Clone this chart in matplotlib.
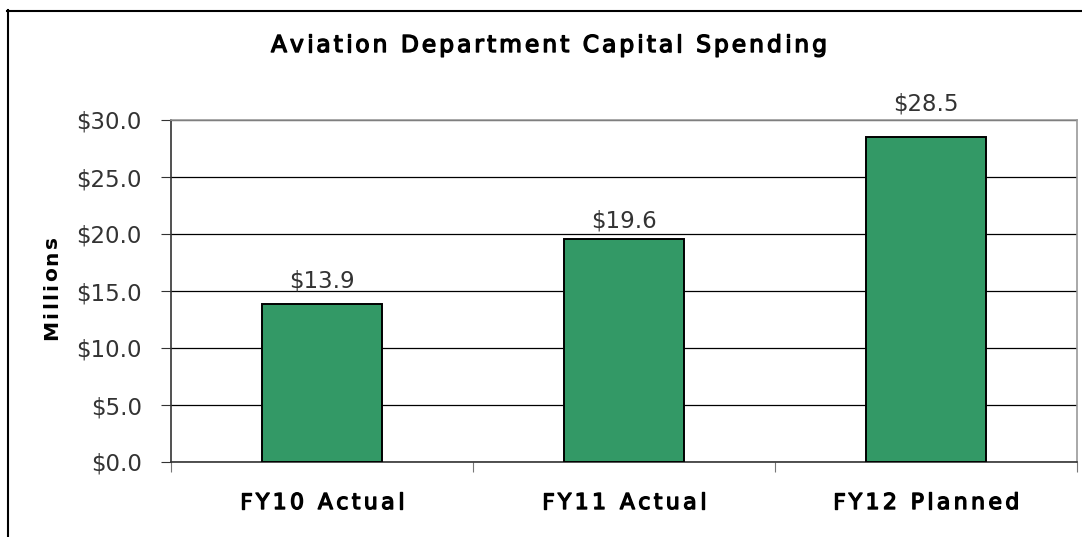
import matplotlib
matplotlib.use('Agg')

import matplotlib.pyplot as plt
import matplotlib.patheffects as pe
from matplotlib.lines import Line2D
from matplotlib.transforms import IdentityTransform
from matplotlib.font_manager import FontProperties, findfont, get_font

# Capital spending by fiscal year (millions of dollars)
categories = ['FY10 Actual', 'FY11 Actual', 'FY12 Planned']
spending = [13.9, 19.6, 28.5]
y_ticks = [0, 5, 10, 15, 20, 25, 30]

# how far (px) each value label's baseline sits above its bar
label_lift = [16, 11, 27]

W, H = 1082, 537
fig = plt.figure(figsize=(W / 100, H / 100), dpi=100)
ax = fig.add_axes([171 / W, 1 - 462 / H, 906 / W, 342 / H])


def spaced_text(x, y, s, size, gap, ha='center', rotation=0, weight='normal',
                color='black', stroke=0.0):
    # draws s glyph by glyph with `gap` px of extra tracking; (x, y) is the baseline anchor in pixels
    font = get_font(findfont(FontProperties(family='DejaVu Sans', weight=weight)))
    font.set_size(size, fig.dpi)
    adv = [font.load_char(ord(c)).linearHoriAdvance / 65536 for c in s]
    total = sum(adv) + gap * (len(s) - 1)
    pos = {'left': 0, 'center': -total / 2, 'right': -total}[ha]
    effects = [pe.withStroke(linewidth=stroke, foreground=color)] if stroke else None
    for ch, a in zip(s, adv):
        c = pos + a / 2
        px, py = (x + c, y) if rotation == 0 else (x, y + c)
        fig.text(px, py, ch, transform=IdentityTransform(), ha='center', va='baseline',
                 rotation=rotation, rotation_mode='anchor', fontsize=size,
                 fontweight=weight, color=color, path_effects=effects)
        pos += a + gap


# outer chart frame (left and top edges)
fig.add_artist(Line2D([7.5 / W, 7.5 / W], [0, 1 - 10 / H],
                      transform=fig.transFigure, color='black', lw=1.5))
fig.add_artist(Line2D([7 / W, 1], [1 - 10.5 / H, 1 - 10.5 / H],
                      transform=fig.transFigure, color='black', lw=1.5))

x = range(len(categories))
ax.bar(x, spending, width=0.4, color='#339966', edgecolor='black', linewidth=1.4, zorder=3)

for i, v in enumerate(spending):
    ax.annotate(f'${v:.1f}', (i, v), xytext=(0, label_lift[i] * 0.72), textcoords='offset points',
                ha='center', va='baseline', fontsize=16.5, color='#333333')

ax.set_xlim(-0.5, len(categories) - 0.5)
ax.set_ylim(0, 30)
ax.set_yticks(y_ticks)
ax.set_yticklabels([f'${t:.1f}' for t in y_ticks], fontsize=16.5, color='#333333')
ax.yaxis.grid(True, color='black', linewidth=0.9, zorder=0)

# ticks sit on the category boundaries
ax.set_xticks([-0.5, 0.5, 1.5, 2.5])
ax.set_xticklabels([])
ax.tick_params(axis='x', length=7, color='#777777')
ax.tick_params(axis='y', length=7, pad=14, color='#333333')

ax.spines['top'].set_color('#999999')
ax.spines['right'].set_color('#999999')
ax.spines['left'].set_color('#333333')
ax.spines['bottom'].set_color('#333333')
for s in ax.spines.values():
    s.set_linewidth(1.2)

# category names centred under each bar
for i, name in enumerate(categories):
    cx, base = ax.transData.transform((i, 0))
    spaced_text(cx, base - 47, name, 15.8, 3.4, stroke=1.0)

spaced_text(57.5, H - 288, 'Millions', 14.5, 2.3, rotation=90, weight='bold')
spaced_text(549, H - 52, 'Aviation Department Capital Spending', 16.8, 3.0, stroke=1.0)

fig.savefig('out.png', dpi=100)
